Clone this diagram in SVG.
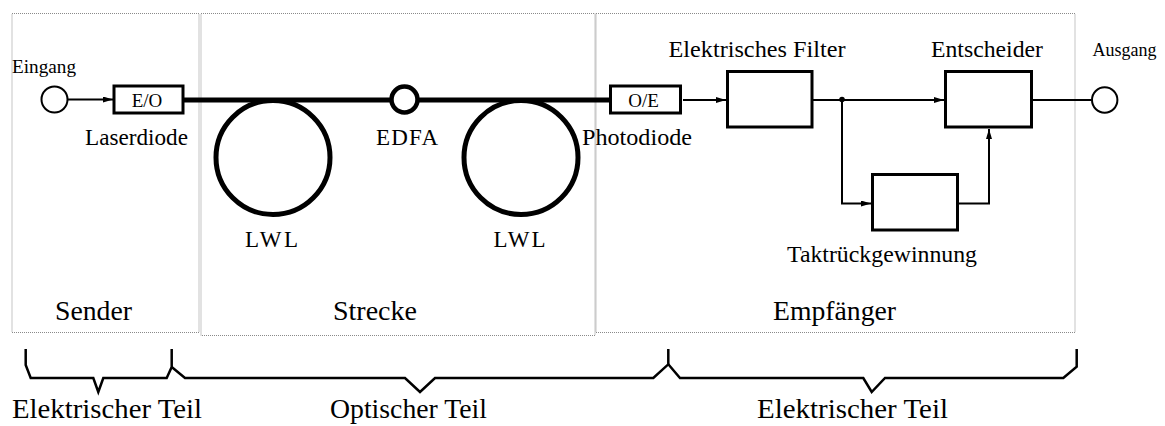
<svg xmlns="http://www.w3.org/2000/svg" width="1165" height="426" viewBox="0 0 1165 426">
<defs>
<style>
.area{fill:none;stroke:#8a8a8a;stroke-width:1;stroke-dasharray:1 1}
.blk{fill:#fff;stroke:#000;stroke-width:3}
.thin{fill:none;stroke:#000;stroke-width:2}
.fiber{fill:none;stroke:#000;stroke-width:5}
.brace{fill:none;stroke:#000;stroke-width:2.5;stroke-linejoin:miter}
</style>
<marker id="ah" viewBox="0 0 10 6" refX="10" refY="3" markerWidth="10" markerHeight="6" markerUnits="userSpaceOnUse" orient="auto">
<path d="M0,0 L10,3 L0,6 Z" fill="#000"/>
</marker>
</defs>

<g id="areas">
<rect id="sender" class="area" x="12" y="13.5" width="187" height="319"/>
<rect id="strecke" class="area" x="201" y="13.5" width="394" height="322"/>
<rect id="empfaenger" class="area" x="596" y="13.5" width="479" height="319"/>
<text font-family="Liberation Serif" style="font-family:'Liberation Serif','Times New Roman',serif" font-size="28" x="55" y="320" textLength="77" lengthAdjust="spacingAndGlyphs">Sender</text>
<text font-family="Liberation Serif" style="font-family:'Liberation Serif','Times New Roman',serif" font-size="28" x="333" y="320" textLength="84" lengthAdjust="spacingAndGlyphs">Strecke</text>
<text font-family="Liberation Serif" style="font-family:'Liberation Serif','Times New Roman',serif" font-size="28" x="773" y="320" textLength="123" lengthAdjust="spacingAndGlyphs">Empfänger</text>
</g>

<g id="connectors">
<line class="thin" x1="67.5" y1="99.5" x2="113" y2="99.5" marker-end="url(#ah)"/>
<line class="fiber" x1="184" y1="100" x2="609" y2="100"/>
<line class="thin" x1="683" y1="100" x2="726" y2="100" marker-end="url(#ah)"/>
<line class="thin" x1="813" y1="100" x2="944" y2="100" marker-end="url(#ah)"/>
<polyline class="thin" points="842,100 842,203.5 871,203.5" marker-end="url(#ah)"/>
<polyline class="thin" points="959,203.5 989,203.5 989,129" marker-end="url(#ah)"/>
<line class="thin" x1="1033" y1="100" x2="1091.5" y2="100"/>
<circle cx="842" cy="99.5" r="2.8" fill="#000"/>
</g>

<g id="eingang">
<circle cx="54.5" cy="99.5" r="13" fill="#fff" stroke="#000" stroke-width="2"/>
<text font-family="Liberation Serif" style="font-family:'Liberation Serif','Times New Roman',serif" font-size="19" x="12" y="73" textLength="64" lengthAdjust="spacingAndGlyphs">Eingang</text>
</g>

<g id="laserdiode">
<rect class="blk" x="114" y="86" width="69" height="27"/>
<text font-family="Liberation Serif" style="font-family:'Liberation Serif','Times New Roman',serif" font-size="19" x="147" y="107" text-anchor="middle">E/O</text>
<text font-family="Liberation Serif" style="font-family:'Liberation Serif','Times New Roman',serif" font-size="23" x="85" y="145" textLength="103" lengthAdjust="spacingAndGlyphs">Laserdiode</text>
</g>

<g id="lwl1">
<circle cx="273" cy="157.5" r="57" fill="none" stroke="#000" stroke-width="5"/>
<text font-family="Liberation Serif" style="font-family:'Liberation Serif','Times New Roman',serif" font-size="23" x="245" y="246.5" textLength="53" lengthAdjust="spacing">LWL</text>
</g>

<g id="edfa">
<circle cx="404.5" cy="99.5" r="13" fill="#fff" stroke="#000" stroke-width="4.5"/>
<text font-family="Liberation Serif" style="font-family:'Liberation Serif','Times New Roman',serif" font-size="23" x="376" y="145" textLength="62" lengthAdjust="spacing">EDFA</text>
</g>

<g id="lwl2">
<circle cx="521" cy="157.5" r="57" fill="none" stroke="#000" stroke-width="5"/>
<text font-family="Liberation Serif" style="font-family:'Liberation Serif','Times New Roman',serif" font-size="23" x="493.5" y="246.5" textLength="52" lengthAdjust="spacing">LWL</text>
</g>

<g id="photodiode">
<rect class="blk" x="610.5" y="86" width="70" height="27"/>
<text font-family="Liberation Serif" style="font-family:'Liberation Serif','Times New Roman',serif" font-size="19" x="643.5" y="107" text-anchor="middle">O/E</text>
<text font-family="Liberation Serif" style="font-family:'Liberation Serif','Times New Roman',serif" font-size="23" x="582" y="144.5" textLength="110" lengthAdjust="spacingAndGlyphs">Photodiode</text>
</g>

<g id="filter">
<rect class="blk" x="727.5" y="71.5" width="84.5" height="55.5"/>
<text font-family="Liberation Serif" style="font-family:'Liberation Serif','Times New Roman',serif" font-size="23" x="668.5" y="56.5" textLength="177" lengthAdjust="spacingAndGlyphs">Elektrisches Filter</text>
</g>

<g id="entscheider">
<rect class="blk" x="945.5" y="71.5" width="86" height="55.5"/>
<text font-family="Liberation Serif" style="font-family:'Liberation Serif','Times New Roman',serif" font-size="23" x="931" y="56.5" textLength="112" lengthAdjust="spacingAndGlyphs">Entscheider</text>
</g>

<g id="takt">
<rect class="blk" x="872.5" y="174.5" width="85" height="55.5"/>
<text font-family="Liberation Serif" style="font-family:'Liberation Serif','Times New Roman',serif" font-size="23" x="787" y="261.5" textLength="190" lengthAdjust="spacingAndGlyphs">Taktrückgewinnung</text>
</g>

<g id="ausgang">
<circle cx="1104.7" cy="100" r="12.7" fill="#fff" stroke="#000" stroke-width="2"/>
<text font-family="Liberation Serif" style="font-family:'Liberation Serif','Times New Roman',serif" font-size="18.5" x="1092.5" y="56" textLength="64" lengthAdjust="spacingAndGlyphs">Ausgang</text>
</g>

<g id="braces">
<path class="brace" d="M25.7,349 L25.7,365 L30.7,378 L93.3,378 L98.3,392 L103.3,378 L166.7,378 L171.7,367 L171.7,349"/>
<path class="brace" d="M171.7,367 L185,378 L405,378 L420,392 L435,378 L653.3,378 L668.3,364.3 L668.3,349"/>
<path class="brace" d="M668.3,364.3 L680,378 L863.3,378 L871.7,392 L885,378 L1063.3,378 L1076.7,366.7 L1076.7,349"/>
<text font-family="Liberation Serif" style="font-family:'Liberation Serif','Times New Roman',serif" font-size="28" x="12" y="418" textLength="190" lengthAdjust="spacingAndGlyphs">Elektrischer Teil</text>
<text font-family="Liberation Serif" style="font-family:'Liberation Serif','Times New Roman',serif" font-size="28" x="330" y="418" textLength="157" lengthAdjust="spacingAndGlyphs">Optischer Teil</text>
<text font-family="Liberation Serif" style="font-family:'Liberation Serif','Times New Roman',serif" font-size="28" x="757" y="418" textLength="191" lengthAdjust="spacingAndGlyphs">Elektrischer Teil</text>
</g>
</svg>
